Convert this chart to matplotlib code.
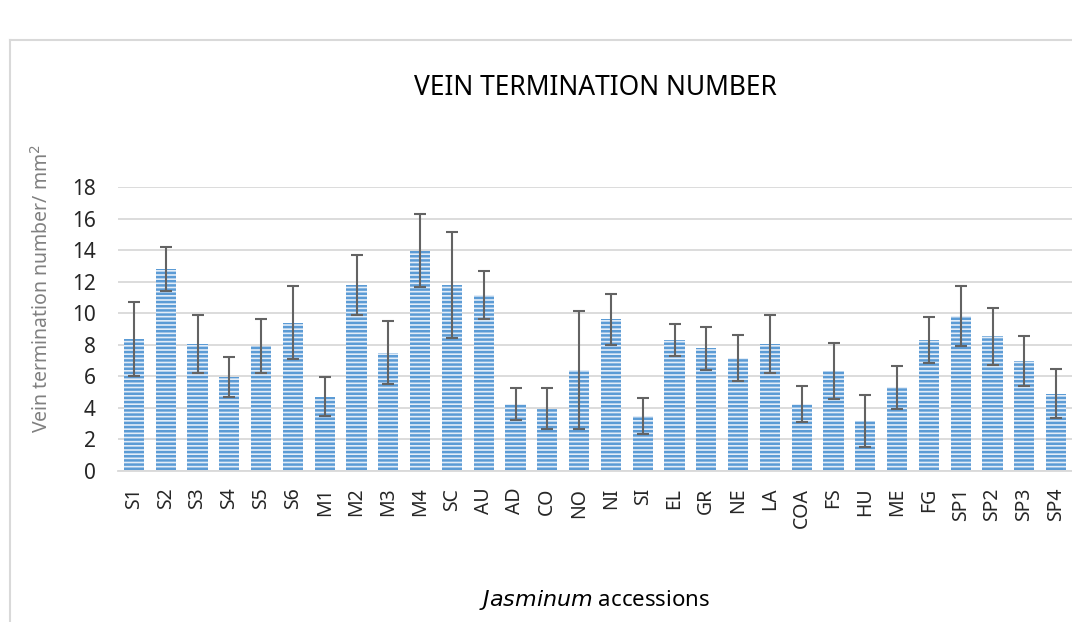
import matplotlib
matplotlib.use('Agg')
import matplotlib.pyplot as plt
from matplotlib.lines import Line2D

accessions = ['S1', 'S2', 'S3', 'S4', 'S5', 'S6', 'M1', 'M2', 'M3', 'M4',
              'SC', 'AU', 'AD', 'CO', 'NO', 'NI', 'SI', 'EL', 'GR', 'NE',
              'LA', 'COA', 'FS', 'HU', 'ME', 'FG', 'SP1', 'SP2', 'SP3', 'SP4']
vein_mean = [8.35, 12.82, 8.06, 5.96, 7.93, 9.41, 4.71, 11.80, 7.51, 13.98,
             11.80, 11.17, 4.25, 3.95, 6.41, 9.64, 3.49, 8.31, 7.78, 7.15,
             8.06, 4.25, 6.35, 3.17, 5.31, 8.31, 9.83, 8.54, 6.98, 4.89]
vein_err = [2.35, 1.37, 1.84, 1.27, 1.73, 2.33, 1.23, 1.90, 2.01, 2.30,
            3.35, 1.52, 1.00, 1.30, 3.75, 1.62, 1.15, 0.99, 1.38, 1.45,
            1.82, 1.17, 1.77, 1.65, 1.35, 1.45, 1.90, 1.80, 1.60, 1.55]

plt.rcParams['font.family'] = ['Noto Sans', 'DejaVu Sans']
plt.rcParams['hatch.linewidth'] = 1.8

fig = plt.figure(figsize=(10.72, 6.22), dpi=100)
ax = fig.add_axes([118 / 1072, 1 - 471 / 622, 1 - 118 / 1072, (471 - 187.3) / 622])

x = range(len(accessions))
ax.bar(x, vein_mean, width=0.63, color='#e3edf8', edgecolor='#5b9bd5',
       hatch='----', linewidth=0, zorder=2)
ax.errorbar(x, vein_mean, yerr=vein_err, fmt='none', ecolor='#636363',
            elinewidth=1.5, capsize=4.6, capthick=1.5, zorder=3)

ax.set_ylim(0, 18)
ax.set_xlim(-0.5, len(accessions) - 0.5)
ax.set_yticks(range(0, 19, 2))
ax.set_xticks(list(x))
ax.set_xticklabels(accessions, rotation=90)
ax.tick_params(axis='y', length=0, labelsize=15, colors='#262626', pad=16)
ax.tick_params(axis='x', length=0, labelsize=14, colors='#262626', pad=12)
ax.grid(axis='y', color='#d9d9d9', linewidth=1.3, zorder=0)
for s in ['top', 'right', 'left']:
    ax.spines[s].set_visible(False)
ax.spines['bottom'].set_color('#d9d9d9')
ax.spines['bottom'].set_linewidth(1.3)

fig.text(ax.get_position().x0 + ax.get_position().width / 2, 1 - 88 / 622,
         'VEIN TERMINATION NUMBER', ha='center', va='center', fontsize=19,
         color='#000000')
fig.text(42 / 1072, 1 - 288 / 622, 'Vein termination number/ mm$^2$',
         rotation=90, ha='center', va='center', fontsize=14, color='#808080')
fig.text(ax.get_position().x0 + ax.get_position().width / 2, 1 - 600 / 622,
         r'$\it{Jasminum}$ accessions', ha='center', va='center', fontsize=16,
         color='#000000')

# outer chart border
fig.add_artist(Line2D([10 / 1072, 10 / 1072], [0, 1 - 40 / 622],
                      color='#d9d9d9', linewidth=1.5))
fig.add_artist(Line2D([10 / 1072, 1], [1 - 40 / 622, 1 - 40 / 622],
                      color='#d9d9d9', linewidth=1.5))

fig.savefig('out.png', dpi=100)
